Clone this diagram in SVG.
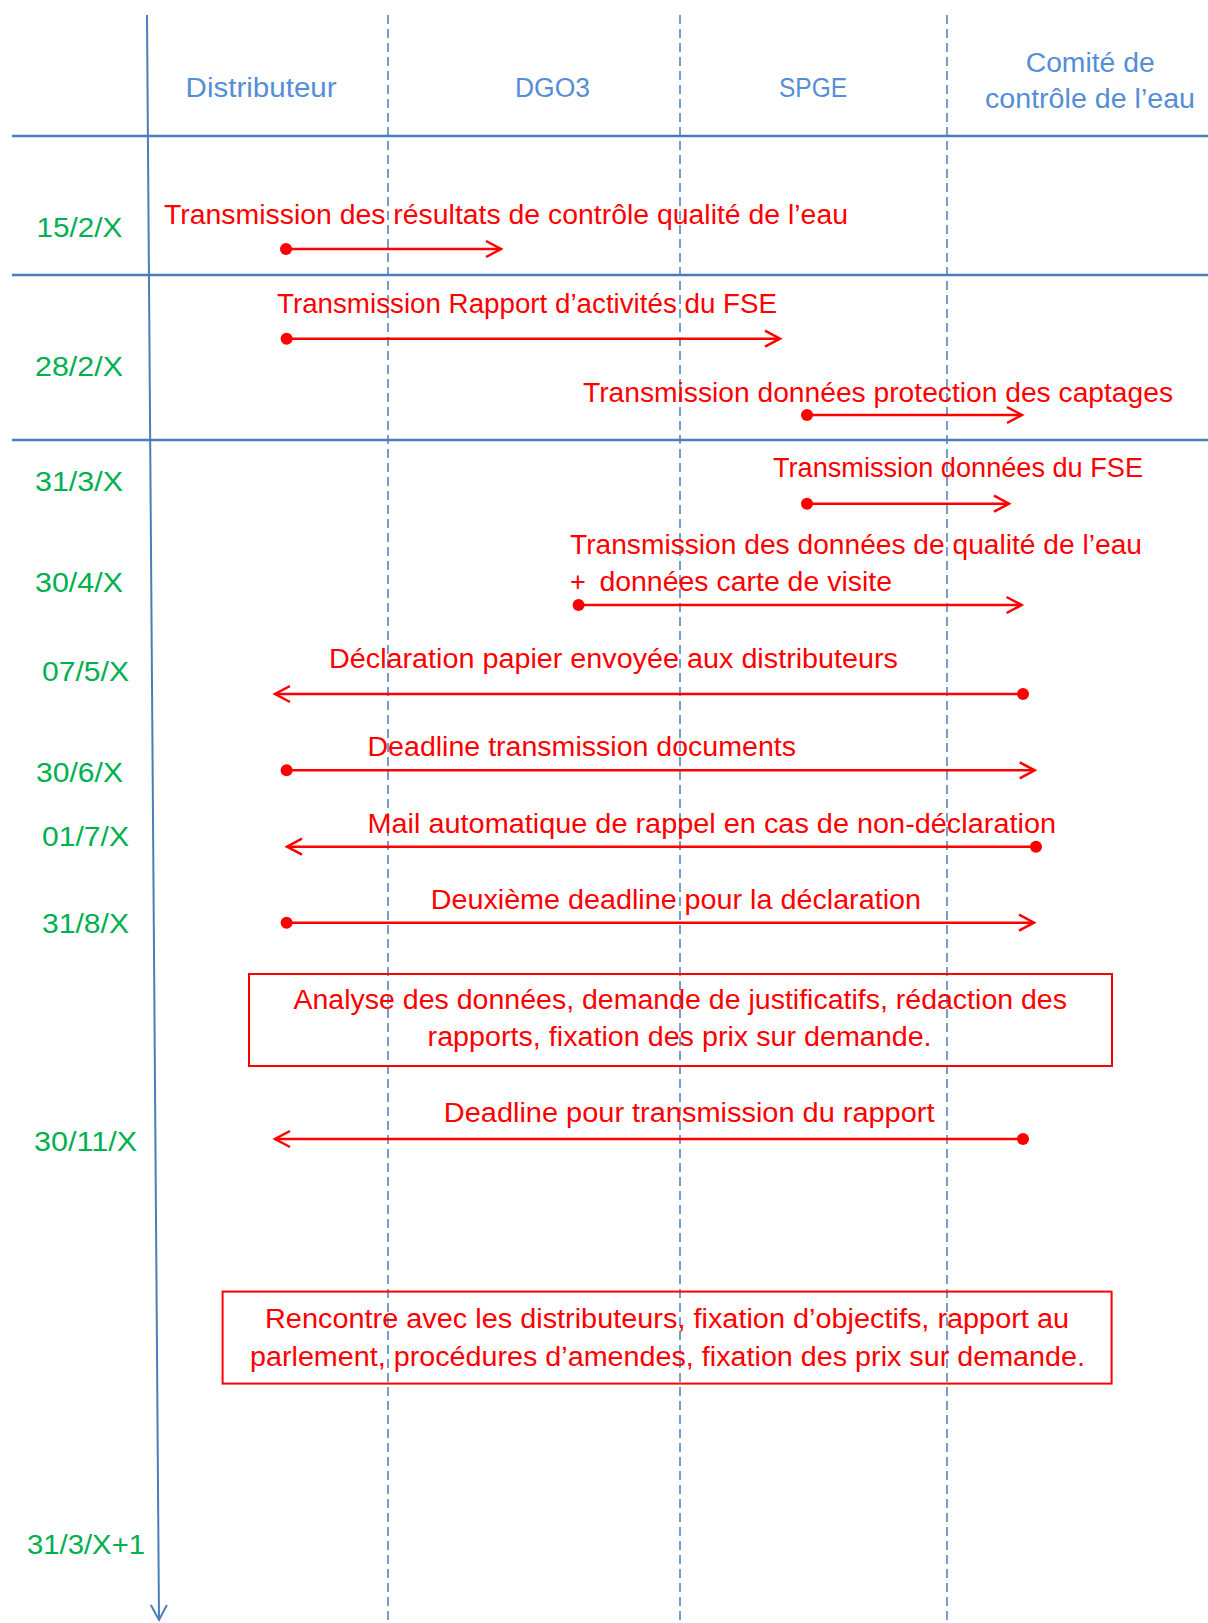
<svg xmlns="http://www.w3.org/2000/svg" width="1208" height="1623" viewBox="0 0 1208 1623">
<style>
  .hdr{font-family:"Liberation Sans",Arial,sans-serif;font-size:27px;fill:#558ED5;}
  .date{font-family:"Liberation Sans",Arial,sans-serif;font-size:28px;fill:#00B050;}
  .lbl{font-family:"Liberation Sans",Arial,sans-serif;font-size:27px;fill:#FF0000;}
  .grid{stroke:#4A7EBB;stroke-width:2.5;fill:none;}
  .lane{stroke:#4A7EBB;stroke-width:1.5;stroke-dasharray:9 5;fill:none;}
  .msg{stroke:#FF0000;stroke-width:2.5;fill:none;marker-start:url(#dot);marker-end:url(#open);}
  .box{stroke:#FF0000;stroke-width:2;fill:none;}
</style>
<defs>
  <marker id="open" markerUnits="userSpaceOnUse" markerWidth="24" markerHeight="24" viewBox="-18 -12 24 24" refX="0" refY="0" orient="auto" overflow="visible">
    <path d="M-15,-8 L0,0 L-15,8" fill="none" stroke="#FF0000" stroke-width="2.5"/>
  </marker>
  <marker id="dot" markerUnits="userSpaceOnUse" markerWidth="16" markerHeight="16" viewBox="-8 -8 16 16" refX="0" refY="0" orient="auto" overflow="visible">
    <circle cx="0" cy="0" r="6" fill="#FF0000"/>
  </marker>
  <marker id="axisHead" markerUnits="userSpaceOnUse" markerWidth="24" markerHeight="24" viewBox="-18 -12 24 24" refX="0" refY="0" orient="auto" overflow="visible">
    <path d="M-15,-8 L0,0 L-15,8" fill="none" stroke="#4A7EBB" stroke-width="2"/>
  </marker>
</defs>
<rect x="0" y="0" width="1208" height="1623" fill="#FFFFFF"/>

<g id="grid">
  <line class="lane" x1="388" y1="15" x2="388" y2="1623"/>
  <line class="lane" x1="680" y1="15" x2="680" y2="1623"/>
  <line class="lane" x1="947" y1="15" x2="947" y2="1623"/>
  <line class="grid" x1="12" y1="136" x2="1208" y2="136"/>
  <line class="grid" x1="12" y1="275" x2="1208" y2="275"/>
  <line class="grid" x1="12" y1="440" x2="1208" y2="440"/>
  <line id="time-axis" x1="147" y1="15" x2="159" y2="1620" stroke="#4A7EBB" stroke-width="2" marker-end="url(#axisHead)"/>
</g>

<g id="header">
  <text id="lane-distributeur" class="hdr" x="185.6" y="97" textLength="151" lengthAdjust="spacingAndGlyphs">Distributeur</text>
  <text id="lane-dgo3" class="hdr" x="515" y="97" textLength="75" lengthAdjust="spacingAndGlyphs">DGO3</text>
  <text id="lane-spge" class="hdr" x="779" y="97" textLength="68" lengthAdjust="spacingAndGlyphs">SPGE</text>
  <g id="lane-comite">
    <text class="hdr" x="1025.7" y="71.7" textLength="129" lengthAdjust="spacingAndGlyphs">Comité de</text>
    <text class="hdr" x="985" y="108.3" textLength="210" lengthAdjust="spacingAndGlyphs">contrôle de l’eau</text>
  </g>
</g>

<g id="dates">
  <text class="date" x="36.4" y="237" textLength="86" lengthAdjust="spacingAndGlyphs">15/2/X</text>
  <text class="date" x="35" y="376" textLength="88" lengthAdjust="spacingAndGlyphs">28/2/X</text>
  <text class="date" x="35" y="490.7" textLength="88" lengthAdjust="spacingAndGlyphs">31/3/X</text>
  <text class="date" x="35" y="591.7" textLength="88" lengthAdjust="spacingAndGlyphs">30/4/X</text>
  <text class="date" x="42" y="681" textLength="87" lengthAdjust="spacingAndGlyphs">07/5/X</text>
  <text class="date" x="36" y="781.7" textLength="87" lengthAdjust="spacingAndGlyphs">30/6/X</text>
  <text class="date" x="42" y="846" textLength="87" lengthAdjust="spacingAndGlyphs">01/7/X</text>
  <text class="date" x="42" y="933" textLength="87" lengthAdjust="spacingAndGlyphs">31/8/X</text>
  <text class="date" x="34" y="1150.5" textLength="103" lengthAdjust="spacingAndGlyphs">30/11/X</text>
  <text class="date" x="27" y="1553.7" textLength="118" lengthAdjust="spacingAndGlyphs">31/3/X+1</text>
</g>

<g id="labels">
  <text id="lbl-1" class="lbl" x="164" y="224" textLength="684" lengthAdjust="spacingAndGlyphs">Transmission des résultats de contrôle qualité de l’eau</text>
  <text id="lbl-2" class="lbl" x="277" y="313" textLength="500" lengthAdjust="spacingAndGlyphs">Transmission Rapport d’activités du FSE</text>
  <text id="lbl-3" class="lbl" x="583" y="401.7" textLength="590" lengthAdjust="spacingAndGlyphs">Transmission données protection des captages</text>
  <text id="lbl-4" class="lbl" x="773" y="477" textLength="370" lengthAdjust="spacingAndGlyphs">Transmission données du FSE</text>
  <g id="lbl-5">
    <text class="lbl" x="570" y="554" textLength="572" lengthAdjust="spacingAndGlyphs">Transmission des données de qualité de l’eau</text>
    <text class="lbl" y="590.7"><tspan x="570">+</tspan><tspan x="599.4" textLength="292.6" lengthAdjust="spacingAndGlyphs">données carte de visite</tspan></text>
  </g>
  <text id="lbl-6" class="lbl" x="329" y="667.7" textLength="569" lengthAdjust="spacingAndGlyphs">Déclaration papier envoyée aux distributeurs</text>
  <text id="lbl-7" class="lbl" x="367.5" y="756" textLength="428.5" lengthAdjust="spacingAndGlyphs">Deadline transmission documents</text>
  <text id="lbl-8" class="lbl" x="367.5" y="833" textLength="688.5" lengthAdjust="spacingAndGlyphs">Mail automatique de rappel en cas de non-déclaration</text>
  <text id="lbl-9" class="lbl" x="430.7" y="909" textLength="490.3" lengthAdjust="spacingAndGlyphs">Deuxième deadline pour la déclaration</text>
  <text id="lbl-10" class="lbl" x="443.8" y="1121.8" textLength="490.7" lengthAdjust="spacingAndGlyphs">Deadline pour transmission du rapport</text>
</g>

<g id="box-analyse">
  <rect class="box" x="249" y="974" width="863" height="92"/>
  <text class="lbl" x="293.5" y="1009" textLength="773.5" lengthAdjust="spacingAndGlyphs">Analyse des données, demande de justificatifs, rédaction des</text>
  <text class="lbl" x="427.6" y="1046" textLength="504" lengthAdjust="spacingAndGlyphs">rapports, fixation des prix sur demande.</text>
</g>

<g id="box-rencontre">
  <rect class="box" x="222.6" y="1291.6" width="889" height="92"/>
  <text class="lbl" x="265" y="1328" textLength="804" lengthAdjust="spacingAndGlyphs">Rencontre avec les distributeurs, fixation d’objectifs, rapport au</text>
  <text class="lbl" x="250" y="1366" textLength="835" lengthAdjust="spacingAndGlyphs">parlement, procédures d’amendes, fixation des prix sur demande.</text>
</g>

<g id="connectors">
  <line class="msg" x1="286" y1="249" x2="501" y2="249"/>
  <line class="msg" x1="286.6" y1="338.7" x2="780" y2="338.7"/>
  <line class="msg" x1="807" y1="415" x2="1022" y2="415"/>
  <line class="msg" x1="807" y1="503.7" x2="1009" y2="503.7"/>
  <line class="msg" x1="578.6" y1="605" x2="1021.6" y2="605"/>
  <line class="msg" x1="1023" y1="694" x2="275" y2="694"/>
  <line class="msg" x1="286.6" y1="770.3" x2="1034.7" y2="770.3"/>
  <line class="msg" x1="1036" y1="846.7" x2="287" y2="846.7"/>
  <line class="msg" x1="286.6" y1="922.7" x2="1034" y2="922.7"/>
  <line class="msg" x1="1023" y1="1139" x2="275" y2="1139"/>
</g>
</svg>
